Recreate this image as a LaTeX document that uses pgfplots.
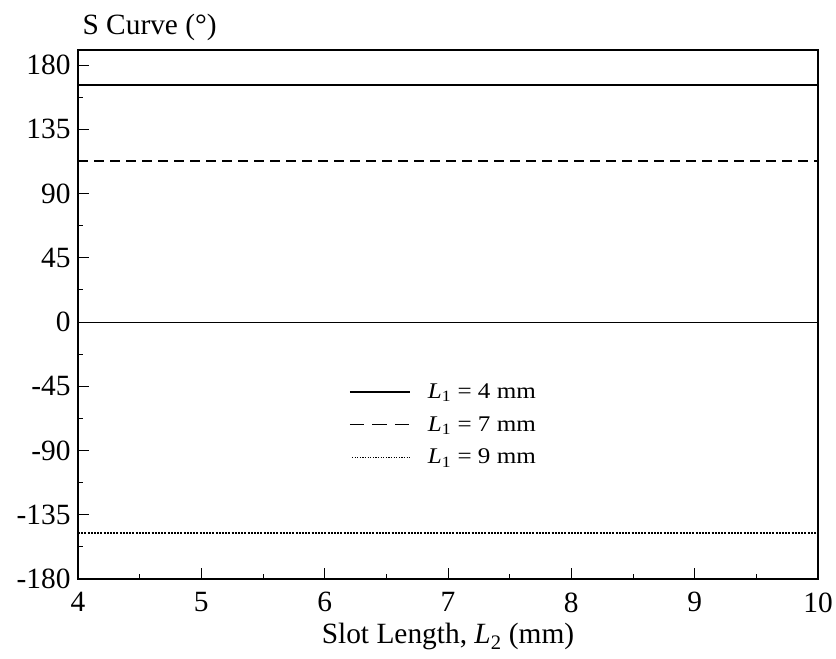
\documentclass[border=0pt]{standalone}
\usepackage{fontspec}
\setmainfont{Liberation Serif}
\usepackage{graphicx}
\usepackage{pgfplots}
\pgfplotsset{compat=1.18}

% legend entries are set slightly wide
\newcommand{\legtext}[1]{\scalebox{1.12}[1]{#1}}

\begin{document}
\begin{tikzpicture}[x=1bp,y=1bp]
\path[use as bounding box] (0,0) rectangle (836,659);
\begin{axis}[
  at={(78bp,80bp)}, anchor=south west,
  scale only axis, width=740bp, height=529bp,
  xmin=4, xmax=10, ymin=-180, ymax=190.5,
  xtick={4,5,...,10}, ytick={-180,-135,...,180},
  minor x tick num=1, minor y tick num=1,
  xtick pos=lower, ytick pos=left, tick align=inside,
  major tick length=11bp, minor tick length=5bp,
  axis line style={line width=1.1bp},
  every tick/.style={line width=0.9bp, black},
  tick label style={font=\fontsize{29.5}{34}\selectfont},
  /pgf/number format/assume math mode=true,
  yticklabel style={xshift=-4bp},
  xticklabel style={yshift=-10bp},
  xlabel={Slot Length, \textit{L}\textsubscript{2} (mm)},
  every axis x label/.style={at={(rel axis cs:0.5,0)}, anchor=base, yshift=-65bp,
    font=\fontsize{29.5}{34}\selectfont},
  ylabel={S Curve (°)},
  every axis y label/.style={at={(rel axis cs:0,1)}, anchor=base west, yshift=15bp, xshift=1bp,
    font=\fontsize{29.5}{34}\selectfont},
  legend style={draw=none, fill=none, at={(rel axis cs:0.362,0.377)}, anchor=north west,
    font=\fontsize{22.5}{26}\selectfont, row sep=12.5bp},
  legend cell align=left,
  legend image code/.code={\draw[#1] (0bp,0bp) -- (60bp,0bp); \path (75bp,0bp);},
]
% reference line at zero
\addplot[black, line width=0.8bp, forget plot] coordinates {(4,0) (10,0)};
\addplot[black, line width=1.8bp] coordinates {(4,166) (10,166)};
\addlegendentry{\legtext{\textit{L}\textsubscript{1} = 4 mm}}
\addplot[black, line width=1.8bp, dash pattern=on 10bp off 6bp,
  legend image code/.code={\draw[black, line width=1.8bp, dash pattern=on 14.5bp off 8bp]
    (0bp,0bp) -- (60bp,0bp); \path (75bp,0bp);}]
  coordinates {(4,113) (10,113)};
\addlegendentry{\legtext{\textit{L}\textsubscript{1} = 7 mm}}
\addplot[black, line width=2bp, dash pattern=on 2bp off 1.2bp,
  legend image code/.code={\draw[black, line width=1.4bp, dash pattern=on 1.3bp off 1.3bp]
    (2bp,0bp) -- (60bp,0bp); \path (75bp,0bp);}]
  coordinates {(4,-147.6) (10,-147.6)};
\addlegendentry{\legtext{\textit{L}\textsubscript{1} = 9 mm}}
\end{axis}
\end{tikzpicture}
\end{document}
